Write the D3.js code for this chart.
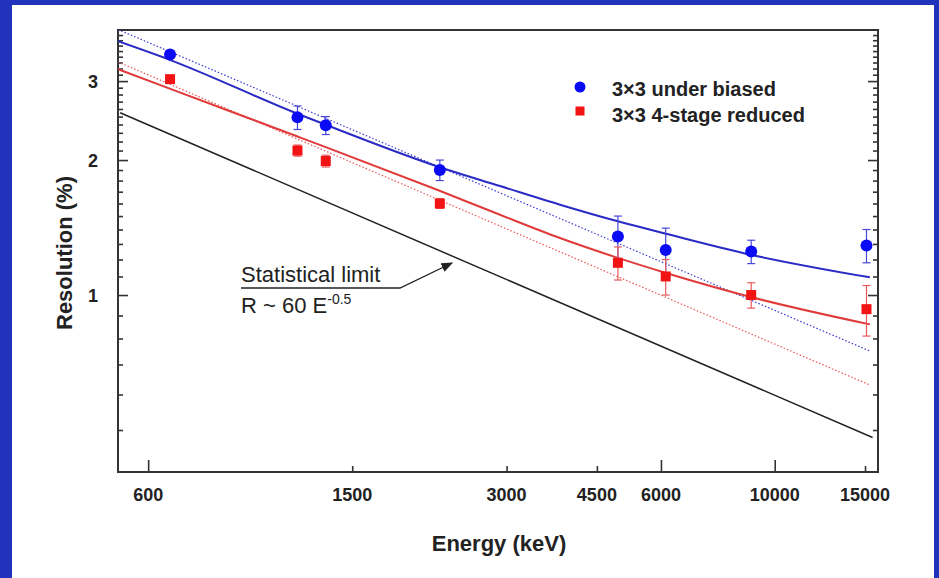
<!DOCTYPE html>
<html>
<head>
<meta charset="utf-8">
<script src="https://cdn.jsdelivr.net/npm/d3@7"></script>
<style>
  body { margin: 0; background: #2233bb; }
  svg { display: block; font-family: "Liberation Sans", Arial, sans-serif; }
</style>
</head>
<body>
<div id="grafico"></div>
<script>
// energias das linhas medidas (keV)
const energias = [662, 1173, 1332, 2223, 4945, 6129, 8998, 15100];

// 3x3 under biased
const resolAzul = [3.44, 2.49, 2.39, 1.90, 1.35, 1.26, 1.25, 1.29];
const erroAzul = [0.04, 0.15, 0.11, 0.10, 0.15, 0.15, 0.075, 0.11];

// 3x3 4-stage reduced
const resolVermelho = [3.03, 2.10, 1.99, 1.60, 1.18, 1.10, 1.00, 0.93];
const erroVermelho = [0.03, 0.06, 0.06, 0.04, 0.10, 0.10, 0.065, 0.12];

// curvas de ajuste: [energia, resolucao]
const ajusteAzul = [[524, 3.68], [659, 3.35], [1170, 2.54], [1328, 2.40], [2215, 1.93], [2913, 1.75],
  [3813, 1.59], [4945, 1.46], [6136, 1.37], [8980, 1.23], [15330, 1.095]];
const ajusteVermelho = [[524, 3.19], [659, 2.89], [1170, 2.26], [1328, 2.14], [2215, 1.71], [2913, 1.51],
  [3813, 1.34], [4945, 1.21], [6136, 1.12], [8980, 0.99], [15330, 0.86]];
const retaAzul = [[524, 3.91], [15330, 0.75]];
const retaVermelha = [[524, 3.31], [15330, 0.63]];
const limiteEstatistico = [[529, 2.55], [15520, 0.481]];

// eixos
const ticksX = [600, 1500, 3000, 4500, 6000, 10000, 15000];
const ticksXLongos = [600, 6000, 10000];
const ticksY = [1, 2, 3];
const ticksYMenores = [0.5, 0.6, 0.7, 0.8, 0.9, 1.1, 1.2, 1.3, 1.4, 1.5, 1.6, 1.7, 1.8, 1.9,
  2.1, 2.2, 2.3, 2.4, 2.5, 2.6, 2.7, 2.8, 2.9, 3.1, 3.2, 3.3, 3.4, 3.5, 3.6, 3.7, 3.8];

const largura = 939, altura = 578;
const margem = { top: 30, right: 61, bottom: 106, left: 118 };

const svg = d3.select("#grafico").append("svg")
  .attr("width", largura)
  .attr("height", altura);

// painel branco dentro da borda azul
svg.append("rect")
  .attr("x", 12).attr("y", 5)
  .attr("width", 922).attr("height", 573)
  .attr("fill", "#ffffff");

const escalaX = d3.scaleLog()
  .domain([524, 15900])
  .range([margem.left, largura - margem.right]);

const escalaY = d3.scaleLog()
  .domain([0.403, 3.9])
  .range([altura - margem.bottom, margem.top]);

const x0 = margem.left, x1 = largura - margem.right;
const y0 = altura - margem.bottom, y1 = margem.top;

svg.append("clipPath").attr("id", "area")
  .append("rect").attr("x", x0).attr("y", y1).attr("width", x1 - x0).attr("height", y0 - y1);

// ticks do eixo Y (para dentro, esquerda e direita)
function eixoY(gerador, tx, menor) {
  const g = svg.append("g")
    .attr("transform", `translate(${tx},0)`)
    .call(gerador(escalaY).tickValues(menor ? ticksYMenores : ticksY)
      .tickSize(menor ? -5 : -10).tickFormat(""));
  g.select(".domain").remove();
  g.selectAll("line").attr("stroke", "#333").attr("stroke-width", 1.6);
}
eixoY(d3.axisLeft, x0, false);
eixoY(d3.axisLeft, x0, true);
eixoY(d3.axisRight, x1, false);
eixoY(d3.axisRight, x1, true);

// ticks do eixo X
[true, false].forEach(longo => {
  const g = svg.append("g")
    .attr("transform", `translate(0,${y0})`)
    .call(d3.axisBottom(escalaX)
      .tickValues(ticksX.filter(t => ticksXLongos.includes(t) === longo))
      .tickSize(longo ? -12 : -6).tickFormat(""));
  g.select(".domain").remove();
  g.selectAll("line").attr("stroke", "#333").attr("stroke-width", 1.6);
});

// rotulos dos ticks
svg.append("g").selectAll("text")
  .data(ticksX).enter().append("text")
  .attr("x", d => escalaX(d))
  .attr("y", 501)
  .attr("text-anchor", "middle")
  .style("font-size", "18px").style("font-weight", "bold").attr("fill", "#222")
  .text(d => d);

svg.append("g").selectAll("text")
  .data(ticksY).enter().append("text")
  .attr("x", 93)
  .attr("y", d => escalaY(d) + 7)
  .attr("text-anchor", "middle")
  .style("font-size", "18px").style("font-weight", "bold").attr("fill", "#222")
  .text(d => d);

// moldura
svg.append("rect")
  .attr("x", x0).attr("y", y1)
  .attr("width", x1 - x0).attr("height", y0 - y1)
  .attr("fill", "none").attr("stroke", "#333").attr("stroke-width", 2);

// linhas
const linha = d3.line()
  .x(d => escalaX(d[0]))
  .y(d => escalaY(d[1]))
  .curve(d3.curveMonotoneX);

const plot = svg.append("g").attr("clip-path", "url(#area)");

plot.append("path").datum(limiteEstatistico).attr("d", linha)
  .attr("fill", "none").attr("stroke", "#222").attr("stroke-width", 1.5);
plot.append("path").datum(retaAzul).attr("d", linha)
  .attr("fill", "none").attr("stroke", "#3b3bd6").attr("stroke-width", 1.2).attr("stroke-dasharray", "1.5,2");
plot.append("path").datum(retaVermelha).attr("d", linha)
  .attr("fill", "none").attr("stroke", "#ee5555").attr("stroke-width", 1.2).attr("stroke-dasharray", "1.5,2");
plot.append("path").datum(ajusteAzul).attr("d", linha)
  .attr("fill", "none").attr("stroke", "#2a2ac4").attr("stroke-width", 2);
plot.append("path").datum(ajusteVermelho).attr("d", linha)
  .attr("fill", "none").attr("stroke", "#e03a3a").attr("stroke-width", 2);

// barras de erro
function barrasErro(valores, erros, cor) {
  const g = plot.append("g").attr("stroke", cor).attr("stroke-width", 1.2);
  energias.forEach((e, i) => {
    const xe = escalaX(e);
    const yt = escalaY(valores[i] + erros[i]);
    const yb = escalaY(valores[i] - erros[i]);
    g.append("line").attr("x1", xe).attr("x2", xe).attr("y1", yt).attr("y2", yb);
    g.append("line").attr("x1", xe - 4).attr("x2", xe + 4).attr("y1", yt).attr("y2", yt);
    g.append("line").attr("x1", xe - 4).attr("x2", xe + 4).attr("y1", yb).attr("y2", yb);
  });
}
barrasErro(resolAzul, erroAzul, "#4848d8");
barrasErro(resolVermelho, erroVermelho, "#e85a5a");

// marcadores
plot.append("g").selectAll("rect")
  .data(energias).enter().append("rect")
  .attr("x", (d) => escalaX(d) - 5)
  .attr("y", (d, i) => escalaY(resolVermelho[i]) - 5)
  .attr("width", 10).attr("height", 10)
  .attr("fill", "#f21414");

plot.append("g").selectAll("circle")
  .data(energias).enter().append("circle")
  .attr("cx", d => escalaX(d))
  .attr("cy", (d, i) => escalaY(resolAzul[i]))
  .attr("r", 6)
  .attr("fill", "#0a0af5");

// legenda
svg.append("circle").attr("cx", 580).attr("cy", 87).attr("r", 5.5).attr("fill", "#0a0af5");
svg.append("rect").attr("x", 575.5).attr("y", 106.5).attr("width", 9).attr("height", 9).attr("fill", "#f21414");
svg.append("text").attr("x", 612).attr("y", 96)
  .style("font-size", "20px").style("font-weight", "bold").attr("fill", "#222")
  .text("3×3 under biased");
svg.append("text").attr("x", 612).attr("y", 122)
  .style("font-size", "20px").style("font-weight", "bold").attr("fill", "#222")
  .text("3×3 4-stage reduced");

// anotacao do limite estatistico
svg.append("defs").append("marker")
  .attr("id", "seta").attr("viewBox", "0 0 10 10")
  .attr("refX", 9).attr("refY", 5)
  .attr("markerWidth", 9).attr("markerHeight", 9)
  .attr("orient", "auto")
  .append("path").attr("d", "M0,1 L10,5 L0,9 Z").attr("fill", "#222");

svg.append("path")
  .attr("d", "M241,288 L400,288 L452,263")
  .attr("fill", "none").attr("stroke", "#222").attr("stroke-width", 1.3)
  .attr("marker-end", "url(#seta)");

svg.append("text").attr("x", 241).attr("y", 282)
  .style("font-size", "22px").attr("fill", "#222")
  .text("Statistical limit");

const formula = svg.append("text").attr("x", 241).attr("y", 313)
  .style("font-size", "22px").attr("fill", "#222");
formula.append("tspan").text("R ~ 60 E");
formula.append("tspan").attr("dy", -9).style("font-size", "14px").text("-0.5");

// titulos dos eixos
svg.append("text")
  .attr("x", 499).attr("y", 551)
  .attr("text-anchor", "middle")
  .style("font-size", "22px").style("font-weight", "bold").attr("fill", "#222")
  .text("Energy (keV)");

svg.append("text")
  .attr("transform", "translate(72,253) rotate(-90)")
  .attr("text-anchor", "middle")
  .style("font-size", "22px").style("font-weight", "bold").attr("fill", "#222")
  .text("Resolution (%)");
</script>
</body>
</html>
